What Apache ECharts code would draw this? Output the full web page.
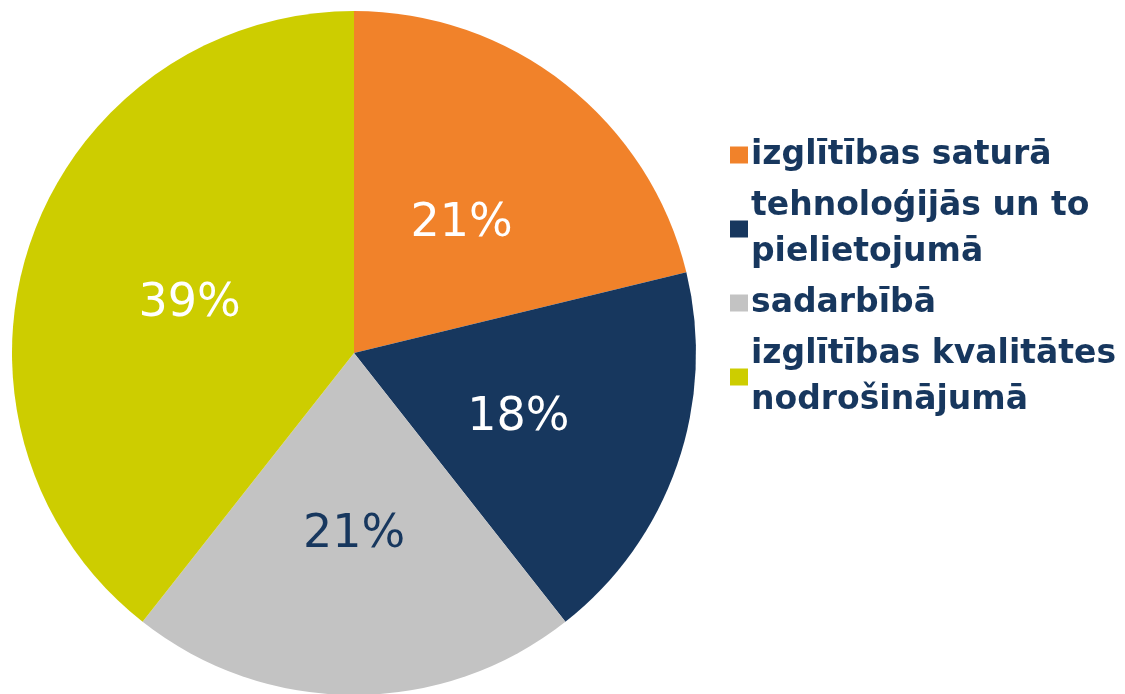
<!DOCTYPE html>
<html><head><meta charset="utf-8">
<script src="https://cdn.jsdelivr.net/npm/echarts@6/dist/echarts.min.js"></script>
<style>html,body{margin:0;padding:0;background:#fff}#c{width:1125px;height:694px}</style>
</head><body><div id="c"></div>
<script>
const categories = ['izglītības saturā', 'tehnoloģijās un to pielietojumā', 'sadarbībā', 'izglītības kvalitātes nodrošinājumā'];
const legendLabels = ['izglītības saturā', 'tehnoloģijās un to\npielietojumā', 'sadarbībā', 'izglītības kvalitātes\nnodrošinājumā'];
const values = [21, 18, 21, 39];
const colors = ['#F1822A', '#17375E', '#C3C3C3', '#CDCD00'];
const labelColors = ['#FFFFFF', '#FFFFFF', '#17375E', '#FFFFFF'];

const chart = echarts.init(document.getElementById('c'));
chart.setOption({
  animation: false,
  legend: {
    orient: 'vertical',
    left: 725,
    top: 127,
    itemWidth: 18,
    itemHeight: 17,
    itemGap: 5,
    icon: 'rect',
    formatter: name => legendLabels[categories.indexOf(name)],
    textStyle: { fontFamily: 'DejaVu Sans', fontWeight: 'bold', fontSize: 33, lineHeight: 46, color: '#17375E', padding: [0, 0, 0, -2] },
    data: categories
  },
  series: [{
    type: 'pie',
    center: [354, 353],
    radius: 342,
    startAngle: 90,
    clockwise: true,
    label: {
      show: true,
      position: 'inside',
      formatter: '{v|{c}%}',
      rich: { v: { fontFamily: 'DejaVu Sans', fontSize: 46, padding: [16, 0, 0, 0] } }
    },
    labelLine: { show: false },
    itemStyle: { borderWidth: 0 },
    emphasis: { disabled: true },
    data: categories.map((n, i) => ({
      name: n, value: values[i],
      itemStyle: { color: colors[i] },
      label: { color: labelColors[i], rich: { v: { color: labelColors[i] } } }
    }))
  }]
});
</script></body></html>
